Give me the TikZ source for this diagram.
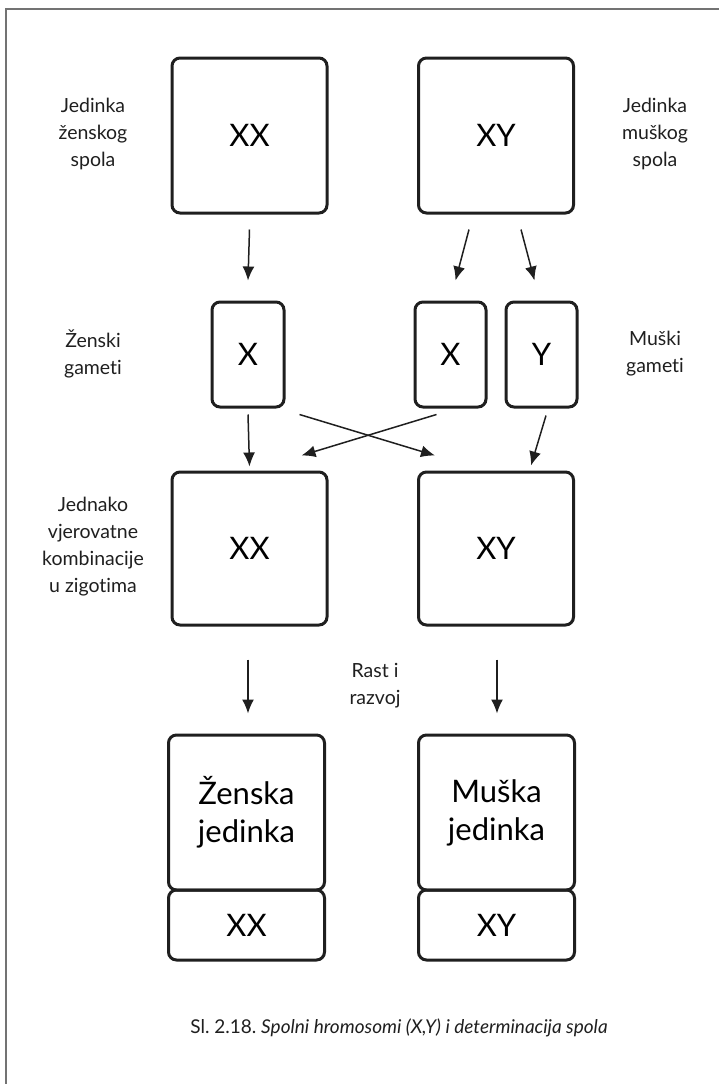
\documentclass[tikz,border=0pt]{standalone}
\usepackage{fontspec}
\setmainfont[Ligatures=NoCommon]{Lato}
\usetikzlibrary{arrows.meta}
\usetikzlibrary{calc}
\frenchspacing
\definecolor{ink}{rgb}{0.12, 0.12, 0.12}
\definecolor{frame}{rgb}{0.45, 0.45, 0.45}
\tikzset{cell/.style = {draw=ink, line width=3pt, rounded corners=8pt,
                        inner sep=0pt, align=center,
                        font=\fontsize{31}{38}\selectfont},
         label/.style = {align=center, text=ink,
                         font=\fontsize{19.5}{27}\selectfont},
         arr/.style = {draw=ink, line width=1.5pt,
                       -{Latex[length=14pt, width=12pt]}}}

\begin{document}
\begin{tikzpicture}[x=1pt, y=-1pt]
    \useasboundingbox (0, 0) rectangle (719, 1084);
    \draw [frame, line width=1.3pt] (6, 1084) -- (6, 9) -- (719, 9);

    % parents
    \node [cell, minimum width=155pt, minimum height=155pt] (fxx) at (249.5, 135.5) {XX};
    \node [cell, minimum width=155pt, minimum height=155pt] (mxy) at (496, 135.5) {XY};
    \node [label] (lfem) at (93, 134) {Jedinka\\ženskog\\spola};
    \node [label] (lmale) at (655, 134) {Jedinka\\muškog\\spola};

    % gametes
    \node [cell, minimum width=72pt, minimum height=105pt] (fx) at (248, 354.5) {X};
    \node [cell, minimum width=71pt, minimum height=105pt] (mx) at (450.5, 354.5) {X};
    \node [cell, minimum width=71pt, minimum height=105pt] (my) at (541.5, 354.5) {Y};
    \node [label] (lfg) at (93, 354) {Ženski\\gameti};
    \node [label] (lmg) at (655, 354) {Muški\\gameti};

    % zygotes
    \node [cell, minimum width=155pt, minimum height=153pt] (zxx) at (249.5, 548.5) {XX};
    \node [cell, minimum width=155pt, minimum height=153pt] (zxy) at (496, 548.5) {XY};
    \node [label] (lzyg) at (93, 547) {Jednako\\vjerovatne\\kombinacije\\u zigotima};

    % individuals
    \node [cell, minimum width=156pt, minimum height=155pt] (fbody) at (246.5, 812.5) {Ženska\\jedinka};
    \node [cell, minimum width=156pt, minimum height=70pt] (fsex) at (246.5, 925) {XX};
    \node [cell, minimum width=156pt, minimum height=155pt] (mbody) at (496.5, 812.5) {Muška\\jedinka};
    \node [cell, minimum width=156pt, minimum height=70pt] (msex) at (496.5, 925) {XY};
    \node [label] (lrast) at (375, 686) {Rast i\\razvoj};

    \node [text=ink, font=\fontsize{19}{23}\selectfont] (caption) at (399, 1028)
        {Sl. 2.18. \textit{Spolni hromosomi (X,Y) i determinacija spola}};

    \draw [arr] ($(fxx.south)+(0, 15)$) -- ($(fx.north)+(0, -20)$);
    \draw [arr] ($(mxy.south)+(-27, 15)$) -- ($(mx.north)+(5, -20)$);
    \draw [arr] ($(mxy.south)+(25, 15)$) -- ($(my.north)+(-7, -20)$);

    \draw [arr] ($(fx.south)+(0, 6)$) -- ($(zxx.north)+(0, -4)$);
    \draw [arr] ($(fx.south east)+(14, 6)$) -- ($(zxy.north west)+(18, -15)$);
    \draw [arr] ($(mx.south west)+(23, 6)$) -- ($(zxx.north east)+(-27, -15)$);
    \draw [arr] ($(my.south)+(4.5, 7)$) -- ($(zxy.north)+(35, -5)$);

    \draw [arr] ($(zxx.south)+(-1.5, 33)$) -- ($(fbody.north)+(1.5, -20)$);
    \draw [arr] ($(zxy.south)+(1, 33)$) -- ($(mbody.north)+(0.5, -20)$);
\end{tikzpicture}
\end{document}
